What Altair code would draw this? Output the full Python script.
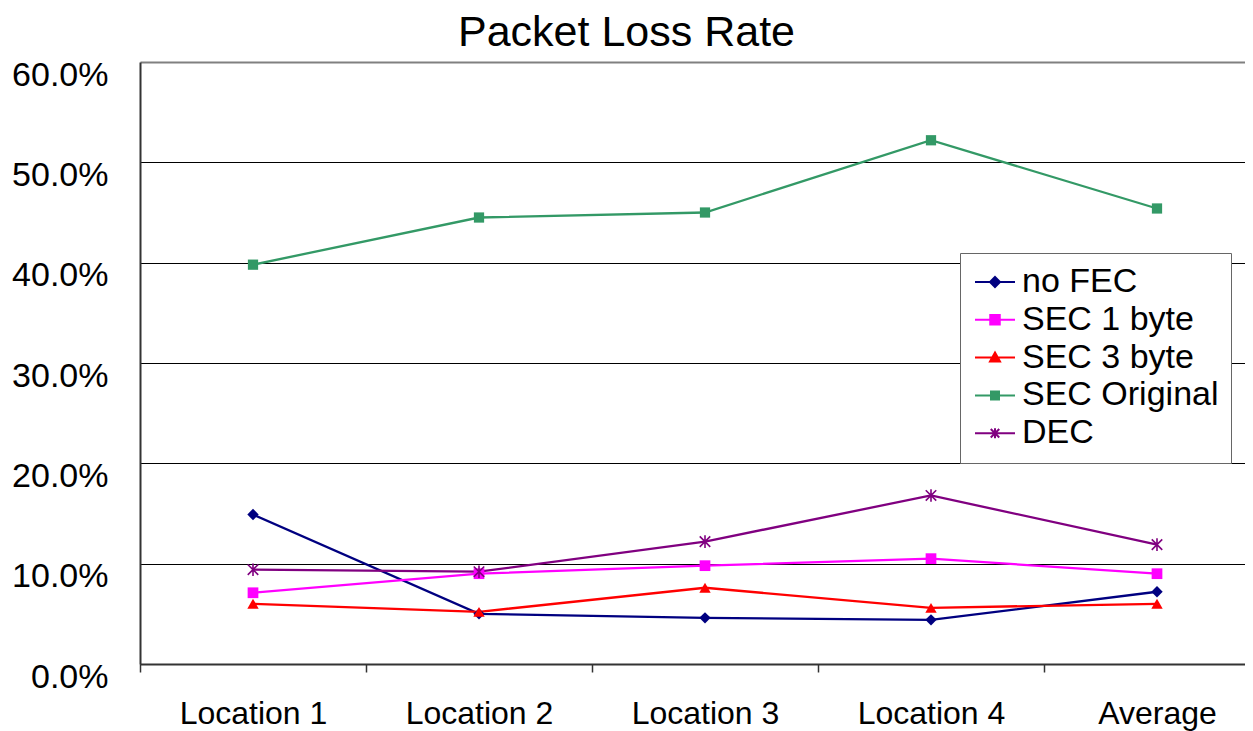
import altair as alt
import pandas as pd

categories = ["Location 1", "Location 2", "Location 3", "Location 4", "Average"]
series_names = ["no FEC", "SEC 1 byte", "SEC 3 byte", "SEC Original", "DEC"]
no_fec = [0.149, 0.050, 0.046, 0.044, 0.072]
sec_1byte = [0.071, 0.090, 0.098, 0.105, 0.090]
sec_3byte = [0.060, 0.052, 0.076, 0.056, 0.060]
sec_original = [0.398, 0.445, 0.450, 0.522, 0.454]
dec = [0.094, 0.092, 0.122, 0.168, 0.119]
colors = ["#000080", "#FF00FF", "#FF0000", "#339966", "#800080"]
y_ticks = [0.0, 0.1, 0.2, 0.3, 0.4, 0.5, 0.6]

series_values = [no_fec, sec_1byte, sec_3byte, sec_original, dec]
rows = []
for name, vals in zip(series_names, series_values):
    for i, (cat, v) in enumerate(zip(categories, vals)):
        rows.append({"category": cat, "series": name, "value": v, "idx": i})
df = pd.DataFrame(rows)

FONT = "Liberation Sans"

# marker shapes for the data points
marker_shapes = ["diamond", "square", "triangle-up", "square",
                 "M-1,-1L1,1M1,-1L-1,1M0,-1.2V1.2"]
marker_filled = [True, True, True, True, False]
marker_sizes = [130, 115, 130, 105, 110]

# legend symbols: line stub + marker (stroked, concentric to look solid)
stub = "M-4,0H4"
legend_paths = [
    stub + "M0,-1L1,0L0,1L-1,0ZM0,-0.6L0.6,0L0,0.6L-0.6,0ZM0,-0.2L0.2,0L0,0.2L-0.2,0Z",
    stub + "M-0.95,-0.95H0.95V0.95H-0.95ZM-0.55,-0.55H0.55V0.55H-0.55ZM-0.15,-0.15H0.15V0.15H-0.15Z",
    stub + "M0,-1L1,0.8H-1ZM0,-0.4L0.55,0.5H-0.55ZM0,0.1L0.15,0.35H-0.15Z",
    stub + "M-0.8,-0.8H0.8V0.8H-0.8ZM-0.4,-0.4H0.4V0.4H-0.4Z",
    stub + "M-0.85,-0.85L0.85,0.85M0.85,-0.85L-0.85,0.85M0,-1V1",
]

x_scale = alt.Scale(type="band", domain=categories, range=[0, 1130],
                    paddingInner=0, paddingOuter=0)
x_axis = alt.Axis(title=None, tickBand="extent", tickSize=8, tickColor="#333333",
                  tickWidth=1.5, labelFont=FONT, labelFontSize=32, labelColor="black",
                  labelBaseline="alphabetic", labelPadding=51, labelAngle=0,
                  domainColor="#333333", domainWidth=2, grid=False, labelLimit=400)
y_scale = alt.Scale(domain=[0, 0.6], nice=False, zero=True)
y_axis = alt.Axis(title=None, values=y_ticks, format=".1%", ticks=False, tickSize=0,
                  labelFont=FONT, labelFontSize=34, labelColor="black",
                  labelBaseline="alphabetic", labelOffset=23, labelPadding=32,
                  domainColor="#333333", domainWidth=2, grid=True,
                  gridColor={"condition": {"test": "datum.value >= 0.59", "value": "#808080"},
                             "value": "#000000"},
                  gridWidth={"condition": {"test": "datum.value >= 0.59", "value": 2},
                             "value": 1})

X = alt.X("category:N", scale=x_scale, axis=x_axis, sort=categories)
Y = alt.Y("value:Q", scale=y_scale, axis=y_axis)
color_scale = alt.Scale(domain=series_names, range=colors)

base = alt.Chart(df)

line_layers = []
marker_layers = []
for name, col, shp, fl, sz in zip(series_names, colors, marker_shapes, marker_filled, marker_sizes):
    sub = base.transform_filter(alt.datum.series == name)
    line_layers.append(
        sub.mark_line(strokeWidth=2.3, color=col).encode(x=X, y=Y, order=alt.Order("idx:Q"))
    )
    marker_layers.append(
        sub.mark_point(shape=shp, filled=fl, size=sz, color=col, opacity=1, strokeWidth=1.6)
        .encode(x=X, y=Y)
    )

legend_layer = base.mark_point(filled=False, opacity=0).encode(
    x=X, y=Y,
    color=alt.Color("series:N", scale=color_scale, legend=alt.Legend(title=None)),
    shape=alt.Shape("series:N", scale=alt.Scale(domain=series_names, range=legend_paths),
                    legend=alt.Legend(title=None)),
)

chart = alt.layer(*line_layers, *marker_layers, legend_layer).properties(
    width=1105,
    height=602,
    autosize=alt.AutoSizeParams(type="none"),
    padding={"left": 132, "top": 54, "right": 0, "bottom": 68},
    title=alt.TitleParams(text="Packet Loss Rate", font=FONT, fontSize=43,
                          fontWeight="normal", color="black", anchor="middle",
                          frame="group", offset=3, dx=-66),
).configure_view(stroke="transparent").configure_legend(
    orient="none", legendX=820, legendY=191, padding=12,
    strokeColor="#666666", fillColor="white",
    labelFont=FONT, labelFontSize=34, labelColor="black", labelLimit=400,
    symbolSize=100, symbolStrokeWidth=2, symbolOpacity=1,
    symbolOffset=6, labelOffset=10, rowPadding=3.8,
)

chart.save("out.html", embed_options={"renderer": "svg", "actions": False})
